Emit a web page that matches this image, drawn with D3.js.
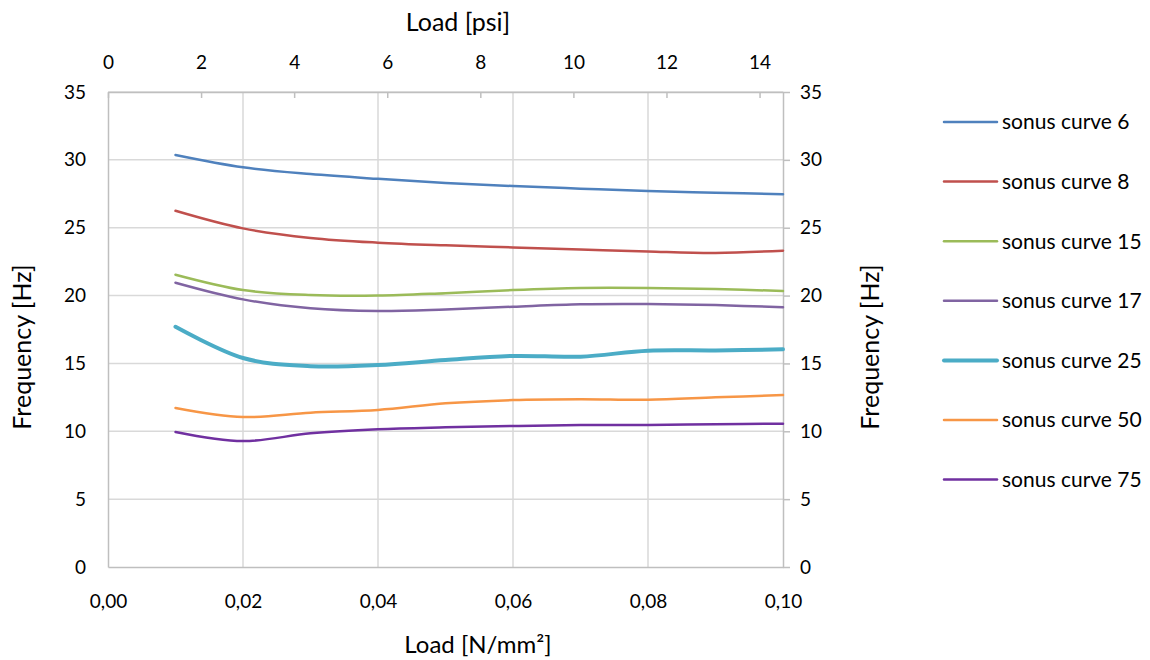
<!DOCTYPE html>
<html>
<head>
<meta charset="utf-8">
<script src="https://cdn.jsdelivr.net/npm/d3@7/dist/d3.min.js"></script>
<style>
  body { margin: 0; background: #fff; }
  text { font-family: Lato, "Open Sans", sans-serif; fill: #000; }
</style>
</head>
<body>
<div id="chart"></div>
<script>
const loads = [0.01, 0.02, 0.03, 0.04, 0.05, 0.06, 0.07, 0.08, 0.09, 0.10];
const seriesNames = ['sonus curve 6', 'sonus curve 8', 'sonus curve 15', 'sonus curve 17', 'sonus curve 25', 'sonus curve 50', 'sonus curve 75'];
const curve6 = [30.36, 29.45, 28.95, 28.6, 28.3, 28.07, 27.88, 27.7, 27.58, 27.46];
const curve8 = [26.25, 24.95, 24.25, 23.9, 23.7, 23.55, 23.4, 23.25, 23.14, 23.31];
const curve15 = [21.54, 20.41, 20.04, 20.0, 20.18, 20.41, 20.56, 20.56, 20.48, 20.34];
const curve17 = [20.95, 19.72, 19.06, 18.86, 18.98, 19.18, 19.36, 19.38, 19.3, 19.14];
const curve25 = [17.7, 15.4, 14.8, 14.88, 15.25, 15.55, 15.5, 15.94, 15.96, 16.04];
const curve50 = [11.72, 11.05, 11.37, 11.57, 12.06, 12.3, 12.36, 12.32, 12.5, 12.67];
const curve75 = [9.95, 9.28, 9.85, 10.15, 10.29, 10.39, 10.46, 10.46, 10.52, 10.56];
const xTicks = [0, 0.02, 0.04, 0.06, 0.08, 0.10];
const psiTicks = [0, 2, 4, 6, 8, 10, 12, 14];
const yTicks = [0, 5, 10, 15, 20, 25, 30, 35];

const colors = ['#4f81bd', '#c0504d', '#9bbb59', '#8064a2', '#4bacc6', '#f79646', '#7030a0'];
const widths = [2.5, 2.5, 2.5, 2.5, 4, 2.5, 2.5];
const allSeries = [curve6, curve8, curve15, curve17, curve25, curve50, curve75];

const W = 1150, H = 660;
const margin = {top: 92, right: 367, bottom: 93, left: 108};
const width = W - margin.left - margin.right;
const height = H - margin.top - margin.bottom;
const PSI_PER_NMM2 = 145.038;

const svg = d3.select('#chart').append('svg')
  .attr('width', W)
  .attr('height', H);
const g = svg.append('g')
  .attr('transform', `translate(${margin.left},${margin.top})`);

const x = d3.scaleLinear().domain([0, 0.10]).range([0, width]);
const xPsi = d3.scaleLinear().domain([0, 0.10 * PSI_PER_NMM2]).range([0, width]);
const y = d3.scaleLinear().domain([0, 35]).range([height, 0]);
const fmt = d3.format('.2f');

/* grid */
g.append('g').selectAll('line.hg')
  .data(yTicks.slice(1))
  .enter().append('line')
  .attr('x1', 0).attr('x2', width)
  .attr('y1', d => y(d)).attr('y2', d => y(d))
  .style('stroke', '#d9d9d9').style('stroke-width', 1.5);
g.append('g').selectAll('line.vg')
  .data(xTicks.slice(1, -1))
  .enter().append('line')
  .attr('x1', d => x(d)).attr('x2', d => x(d))
  .attr('y1', 0).attr('y2', height)
  .style('stroke', '#d9d9d9').style('stroke-width', 1.5);

/* axes */
const axisColor = '#bfbfbf';
const bottomAxis = d3.axisBottom(x).tickValues(xTicks).tickSize(0).tickPadding(28)
  .tickFormat(d => fmt(d).replace('.', ','));
const topAxis = d3.axisTop(xPsi).tickValues(psiTicks).tickSizeInner(-6).tickSizeOuter(0).tickPadding(23);
const leftAxis = d3.axisLeft(y).tickValues(yTicks).tickSize(0).tickPadding(22);
const rightAxis = d3.axisRight(y).tickValues(yTicks).tickSizeInner(7).tickSizeOuter(0).tickPadding(10);

const styleAxis = sel => {
  sel.select('.domain').style('stroke', axisColor).style('stroke-width', 1.5);
  sel.selectAll('.tick line').style('stroke', axisColor).style('stroke-width', 1.5);
  sel.selectAll('.tick text').style('font-size', '19px').style('font-family', 'Lato, "Open Sans", sans-serif');
};

g.append('g').attr('transform', `translate(0,${height})`).call(bottomAxis).call(styleAxis);
g.append('g').call(topAxis).call(styleAxis)
  .selectAll('.tick line').attr('y2', 6);
g.append('g').call(leftAxis).call(styleAxis);
g.append('g').attr('transform', `translate(${width},0)`).call(rightAxis).call(styleAxis);

/* lines */
const line = d3.line()
  .x((d, i) => x(loads[i]))
  .y(d => y(d))
  .curve(d3.curveCardinal);

g.append('g').selectAll('path.series')
  .data(allSeries)
  .enter().append('path')
  .attr('d', line)
  .style('fill', 'none')
  .style('stroke', (d, i) => colors[i])
  .style('stroke-width', (d, i) => widths[i])
  .style('stroke-linecap', 'round');

/* titles */
svg.append('text')
  .attr('x', 478).attr('y', 653)
  .style('text-anchor', 'middle').style('font-size', '24px')
  .text('Load [N/mm²]');
svg.append('text')
  .attr('x', 458).attr('y', 31)
  .style('text-anchor', 'middle').style('font-size', '25px')
  .text('Load [psi]');
svg.append('text')
  .attr('transform', 'translate(31,347) rotate(-90)')
  .style('text-anchor', 'middle').style('font-size', '25px')
  .text('Frequency [Hz]');
svg.append('text')
  .attr('transform', 'translate(879,347) rotate(-90)')
  .style('text-anchor', 'middle').style('font-size', '25px')
  .text('Frequency [Hz]');

/* legend */
const legend = svg.append('g').selectAll('.legend')
  .data(seriesNames)
  .enter().append('g')
  .attr('transform', (d, i) => `translate(944, ${122 + i * 59.6})`);
legend.append('line')
  .attr('x1', 0).attr('x2', 53)
  .style('stroke', (d, i) => colors[i])
  .style('stroke-width', (d, i) => widths[i])
  .style('stroke-linecap', 'round');
legend.append('text')
  .attr('x', 58).attr('dy', '0.35em')
  .style('font-size', '21px')
  .text(d => d);
</script>
</body>
</html>
